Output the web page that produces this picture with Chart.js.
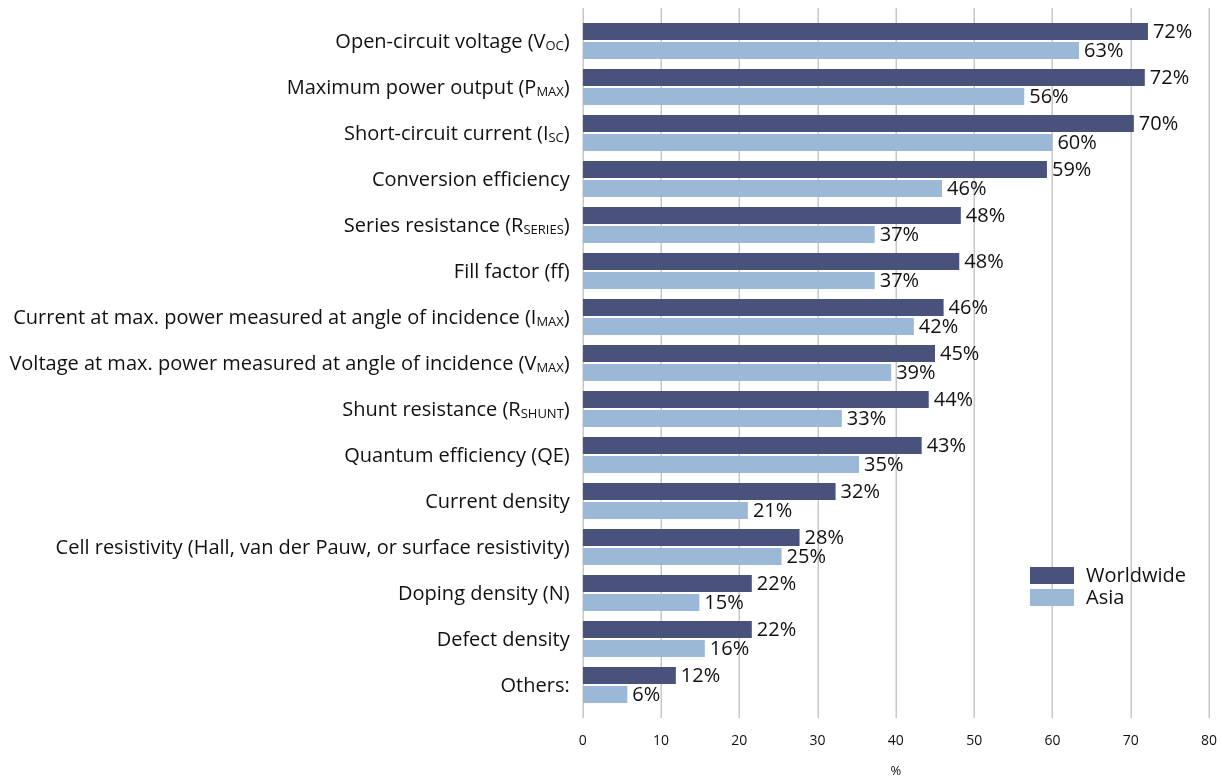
<!DOCTYPE html>
<html>
<head>
<meta charset="utf-8">
<script src="https://cdn.jsdelivr.net/npm/chart.js@4/dist/chart.umd.min.js"></script>
<style>
  html, body { margin: 0; padding: 0; background: #fff; overflow: hidden; }
  #wrap { width: 1222px; height: 780px; }
  canvas { display: block; }
</style>
</head>
<body>
<div id="wrap"><canvas id="chart" width="1222" height="780"></canvas></div>
<script>
// labels use _{...} for subscript parts
const categories = [
  "Open-circuit voltage (V_{OC})",
  "Maximum power output (P_{MAX})",
  "Short-circuit current (I_{SC})",
  "Conversion efficiency",
  "Series resistance (R_{SERIES})",
  "Fill factor (ff)",
  "Current at max. power measured at angle of incidence (I_{MAX})",
  "Voltage at max. power measured at angle of incidence (V_{MAX})",
  "Shunt resistance (R_{SHUNT})",
  "Quantum efficiency (QE)",
  "Current density",
  "Cell resistivity (Hall, van der Pauw, or surface resistivity)",
  "Doping density (N)",
  "Defect density",
  "Others:"
];
const worldwide = [72.2, 71.8, 70.4, 59.3, 48.3, 48.1, 46.1, 45.0, 44.2, 43.3, 32.3, 27.7, 21.6, 21.6, 11.9];
const asia = [63.4, 56.4, 60.0, 45.9, 37.3, 37.3, 42.3, 39.4, 33.1, 35.3, 21.1, 25.4, 14.9, 15.6, 5.7];
const xTicks = [0, 10, 20, 30, 40, 50, 60, 70, 80];

const FONT = "'Open Sans', sans-serif";
const TEXT = "#111111";
const GRID = "#c8c8c8";

function parseLabel(s) {
  const parts = [];
  const re = /_\{([^}]*)\}/g;
  let last = 0, m;
  while ((m = re.exec(s))) {
    if (m.index > last) parts.push({ t: s.slice(last, m.index), sub: false });
    parts.push({ t: m[1], sub: true });
    last = re.lastIndex;
  }
  if (last < s.length) parts.push({ t: s.slice(last), sub: false });
  return parts;
}

const gridPlugin = {
  id: "grid",
  beforeDatasetsDraw(chart) {
    const { ctx, chartArea, scales } = chart;
    ctx.save();
    ctx.strokeStyle = GRID;
    ctx.lineWidth = 1.5;
    scales.x.ticks.forEach(t => {
      const px = Math.round(scales.x.getPixelForValue(t.value)) + 0.25;
      ctx.beginPath();
      ctx.moveTo(px, chartArea.top - 10);
      ctx.lineTo(px, chartArea.bottom + 10);
      ctx.stroke();
    });
    ctx.restore();
  }
};

const yLabelPlugin = {
  id: "yLabels",
  afterDraw(chart) {
    const { ctx, scales } = chart;
    const y = scales.y;
    const right = y.right - 13;
    ctx.save();
    ctx.fillStyle = TEXT;
    ctx.textBaseline = "middle";
    ctx.textAlign = "left";
    chart.data.labels.forEach((lab, i) => {
      const parts = parseLabel(lab);
      const cy = y.getPixelForTick(i) + 1;
      let w = 0;
      parts.forEach(p => {
        ctx.font = (p.sub ? "13px " : "20px ") + FONT;
        p.w = ctx.measureText(p.t).width;
        w += p.w;
      });
      let x = right - w;
      parts.forEach(p => {
        ctx.font = (p.sub ? "13px " : "20px ") + FONT;
        ctx.fillText(p.t, x, p.sub ? cy + 4 : cy);
        x += p.w;
      });
    });
    ctx.restore();
  }
};

const valuePlugin = {
  id: "values",
  afterDatasetsDraw(chart) {
    const { ctx } = chart;
    ctx.save();
    ctx.fillStyle = TEXT;
    ctx.font = "20px " + FONT;
    ctx.textBaseline = "middle";
    ctx.textAlign = "left";
    chart.data.datasets.forEach((ds, di) => {
      chart.getDatasetMeta(di).data.forEach((bar, i) => {
        ctx.fillText(Math.round(ds.data[i]) + "%", bar.x + 5, bar.y + 1);
      });
    });
    ctx.restore();
  }
};

const legendPlugin = {
  id: "boxLegend",
  afterDraw(chart) {
    const { ctx } = chart;
    ctx.save();
    ctx.font = "20px " + FONT;
    ctx.textBaseline = "middle";
    chart.data.datasets.forEach((ds, i) => {
      const top = 567 + i * 22;
      ctx.fillStyle = ds.backgroundColor;
      ctx.fillRect(1030, top, 44, 17);
      ctx.fillStyle = TEXT;
      ctx.fillText(ds.label, 1086, top + 9);
    });
    ctx.restore();
  }
};

new Chart(document.getElementById("chart").getContext("2d"), {
  type: "bar",
  data: {
    labels: categories,
    datasets: [
      { label: "Worldwide", data: worldwide, backgroundColor: "#49527a" },
      { label: "Asia", data: asia, backgroundColor: "#9cb8d7" }
    ]
  },
  options: {
    indexAxis: "y",
    responsive: false,
    animation: false,
    categoryPercentage: 0.826,
    barPercentage: 0.895,
    layout: { padding: { top: 18, right: 13, bottom: 0, left: 0 } },
    plugins: { legend: { display: false }, tooltip: { enabled: false } },
    scales: {
      x: {
        type: "linear",
        min: 0,
        max: 80,
        afterBuildTicks(scale) { scale.ticks = xTicks.map(v => ({ value: v })); },
        afterFit(scale) {
          scale.height = 72;
          scale.paddingLeft = 0;
          scale.paddingRight = 0;
        },
        grid: { display: false },
        border: { display: false },
        ticks: { color: TEXT, font: { family: FONT, size: 14 }, padding: 17 },
        title: { display: true, text: "%", color: TEXT, font: { family: FONT, size: 13 }, padding: { top: 0, bottom: 1 } }
      },
      y: {
        afterFit(scale) { scale.width = 582.7; },
        grid: { display: false },
        border: { display: false },
        ticks: { display: false }
      }
    }
  },
  plugins: [gridPlugin, valuePlugin, yLabelPlugin, legendPlugin]
});
</script>
</body>
</html>
